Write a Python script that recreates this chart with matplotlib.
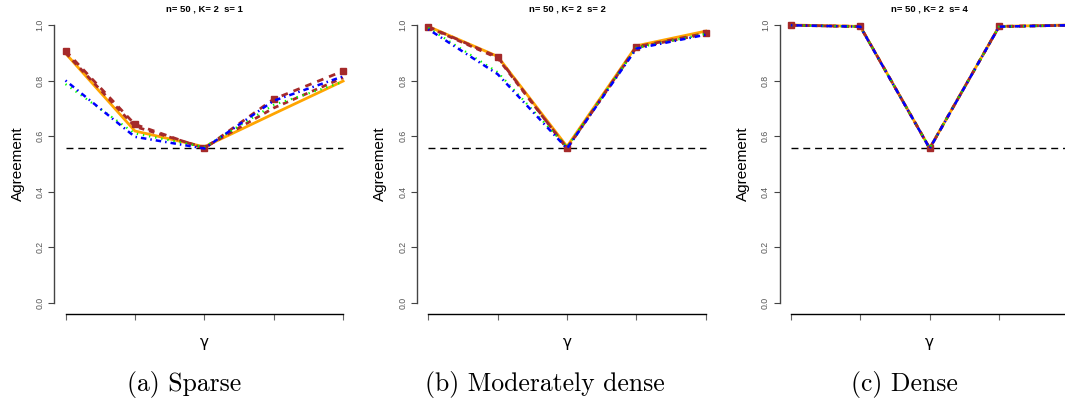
import matplotlib
matplotlib.use("Agg")
import matplotlib.pyplot as plt

# gamma grid positions (no labels on the axis)
gamma_pos = [1, 2, 3, 4, 5]
baseline = 0.556

titles = ["n= 50 , K= 2  s= 1", "n= 50 , K= 2  s= 2", "n= 50 , K= 2  s= 4"]
captions = ["(a) Sparse", "(b) Moderately dense", "(c) Dense"]

# one list per panel, per method
brown_sq = [
    [0.907, 0.642, 0.555, 0.733, 0.834],
    [0.994, 0.885, 0.555, 0.922, 0.970],
    [0.999, 0.995, 0.555, 0.995, 0.999],
]
brown_ln = [
    [0.900, 0.634, 0.558, 0.701, 0.810],
    [0.992, 0.881, 0.556, 0.919, 0.968],
    [0.999, 0.994, 0.556, 0.994, 0.999],
]
orange = [
    [0.898, 0.618, 0.561, 0.680, 0.798],
    [0.995, 0.887, 0.562, 0.925, 0.978],
    [1.000, 0.995, 0.556, 0.995, 1.000],
]
blue = [
    [0.800, 0.597, 0.555, 0.727, 0.815],
    [0.985, 0.823, 0.555, 0.915, 0.965],
    [0.999, 0.994, 0.555, 0.994, 0.999],
]
green = [
    [0.787, 0.609, 0.560, 0.712, 0.795],
    [0.990, 0.830, 0.560, 0.918, 0.968],
    [0.999, 0.994, 0.556, 0.994, 0.999],
]

W, H = 1065, 403
fig = plt.figure(figsize=(W / 100, H / 100), dpi=100)

# pixel boxes of the plot regions (left, right, top, bottom)
x3_px = [204.3, 567.0, 929.7]
unit = 69.4
top_px, bot_px = 13.9, 313.6
cap_x = [184.5, 545.0, 904.5]

sans = "Liberation Sans"

for i in range(3):
    left = x3_px[i] - 2.16 * unit
    right = x3_px[i] + 2.16 * unit
    ax = fig.add_axes([left / W, 1 - bot_px / H, (right - left) / W, (bot_px - top_px) / H])
    ax.set_xlim(0.84, 5.16)
    ax.set_ylim(-0.04, 1.04)

    ax.plot(gamma_pos, orange[i], color="#FFA500", lw=2.0, solid_joinstyle="miter", zorder=2)
    ax.plot(gamma_pos, brown_ln[i], color="#A52A2A", lw=2.0, dashes=(2.0, 1.8), zorder=3)
    ax.plot(gamma_pos, brown_sq[i], color="#A52A2A", lw=2.0, dashes=(2.4, 2.2),
            marker="s", ms=5, zorder=4)
    ax.plot(gamma_pos, green[i], color="#00FF00", lw=1.6, dashes=(0.6, 2.2), zorder=5)
    ax.plot(gamma_pos, blue[i], color="#0000FF", lw=1.8, dashes=(0.6, 1.6, 2.2, 1.6), zorder=6)
    ax.plot([gamma_pos[0], gamma_pos[-1]], [baseline, baseline], color="black",
            lw=1.0, dashes=(5, 3.5), zorder=1)

    for s in ["top", "right"]:
        ax.spines[s].set_visible(False)
    ax.spines["left"].set_bounds(0, 1)
    ax.spines["bottom"].set_bounds(1, 5)
    ax.spines["left"].set_color("#444444")
    ax.spines["bottom"].set_color("black")
    ax.spines["left"].set_linewidth(1.0)
    ax.spines["bottom"].set_linewidth(1.0)

    ax.set_yticks([0.0, 0.2, 0.4, 0.6, 0.8, 1.0])
    ax.set_yticklabels(["0.0", "0.2", "0.4", "0.6", "0.8", "1.0"], rotation=90,
                       va="center", fontsize=6.3, color="#555555", fontfamily=sans)
    ax.set_xticks(gamma_pos)
    ax.set_xticklabels([])
    ax.tick_params(axis="y", length=4, width=0.8, color="#444444", pad=3)
    ax.tick_params(axis="x", length=4, width=0.8, color="#666666")

    ax.set_title(titles[i], fontsize=6.8, fontweight="bold", fontfamily=sans, pad=1.5)
    ax.set_ylabel("Agreement", fontsize=11, fontfamily=sans, labelpad=8)

    fig.text(x3_px[i] / W, 1 - 343 / H, "γ", ha="center", va="center",
             fontsize=11, fontfamily="DejaVu Sans")
    fig.text(cap_x[i] / W, 1 - 385 / H, captions[i], ha="center", va="center",
             fontsize=18.5, fontfamily="cmr10")

fig.savefig("out.png", dpi=100)
